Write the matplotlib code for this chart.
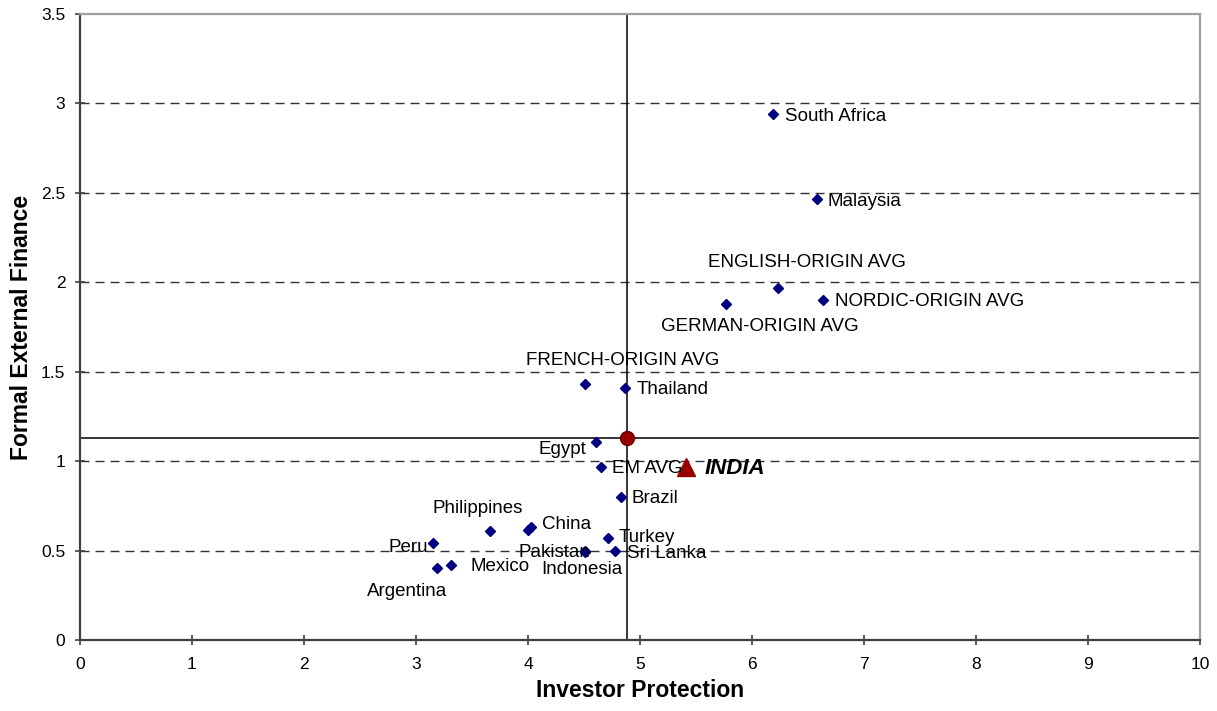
# investor protection vs formal external finance scatter

import matplotlib.pyplot as plt

plt.rcParams['font.family'] = ['Liberation Sans', 'DejaVu Sans']

# data
names = ['South Africa', 'Malaysia', 'ENGLISH-ORIGIN AVG', 'GERMAN-ORIGIN AVG',
         'NORDIC-ORIGIN AVG', 'FRENCH-ORIGIN AVG', 'Thailand', 'Egypt', 'EM AVG',
         'Brazil', 'Philippines', '', 'China', 'Peru', 'Argentina', 'Mexico',
         'Turkey', 'Pakistan', 'Indonesia', 'Sri Lanka']
protection = [6.19, 6.58, 6.235, 5.765, 6.635, 4.51, 4.865, 4.605, 4.65,
              4.83, 3.66, 4.00, 4.03, 3.15, 3.185, 3.31, 4.71, 4.51, 4.51, 4.775]
finance = [2.94, 2.465, 1.97, 1.88, 1.90, 1.43, 1.41, 1.105, 0.97,
           0.80, 0.61, 0.615, 0.63, 0.545, 0.40, 0.42, 0.57, 0.495, 0.49, 0.50]

india_x = [5.415]
india_y = [0.97]
mean_x = [4.885]
mean_y = [1.13]

# label placement (pixel offset, alignment)
label_pos = {
    'South Africa': (12, -2, 'left'),
    'Malaysia': (11, -2, 'left'),
    'ENGLISH-ORIGIN AVG': (29, 25, 'center'),
    'GERMAN-ORIGIN AVG': (34, -23, 'center'),
    'NORDIC-ORIGIN AVG': (12, -1, 'left'),
    'FRENCH-ORIGIN AVG': (38, 24, 'center'),
    'Thailand': (12, -2, 'left'),
    'Egypt': (-10, -7, 'right'),
    'EM AVG': (11, -2, 'left'),
    'Brazil': (11, -2, 'left'),
    'Philippines': (-12, 22, 'center'),
    'China': (11, 3, 'left'),
    'Peru': (-5, -5, 'right'),
    'Argentina': (-30, -23, 'center'),
    'Mexico': (20, -2, 'left'),
    'Turkey': (11, 1, 'left'),
    'Pakistan': (5, -1, 'right'),
    'Indonesia': (-3, -17, 'center'),
    'Sri Lanka': (12, -3, 'left'),
}

fig = plt.figure(figsize=(12.17, 7.11), dpi=100)
ax = fig.add_axes([80 / 1217, 1 - 640 / 711, 1120 / 1217, 626 / 711])

# dashed horizontal gridlines
for g in [0.5, 1, 1.5, 2, 2.5, 3]:
    ax.axhline(g, color='#333333', lw=1, dashes=(6.5, 4.3), zorder=1)

# cross lines through the overall mean
ax.axvline(mean_x[0], color='black', lw=1.1, zorder=2)
ax.axhline(mean_y[0], color='black', lw=1.1, zorder=2)

ax.plot(protection, finance, 'D', color='#000080', markersize=5.5, zorder=3)
ax.plot(mean_x, mean_y, 'o', color='#990000', markeredgecolor='#660000',
        markersize=10, zorder=4)
ax.plot(india_x, india_y, '^', color='#990000', markersize=13, zorder=4)

for n, x, y in zip(names, protection, finance):
    if n == '':
        continue
    dx, dy, ha = label_pos[n]
    ax.annotate(n, (x, y), xytext=(dx, dy), textcoords='offset pixels',
                ha=ha, va='center', fontsize=13.5, color='black', zorder=5)

ax.annotate('INDIA', (india_x[0], india_y[0]), xytext=(18, -2),
            textcoords='offset pixels', ha='left', va='center',
            fontsize=16, fontweight='bold', fontstyle='italic', zorder=5)

ax.set_xlim(0, 10)
ax.set_ylim(0, 3.5)
ax.set_xticks(range(0, 11))
ax.set_yticks([0, 0.5, 1, 1.5, 2, 2.5, 3, 3.5])
ax.set_yticklabels(['0', '0.5', '1', '1.5', '2', '2.5', '3', '3.5'])
ax.tick_params(direction='inout', length=7, width=1.2, labelsize=12.5,
               color='#404040')
ax.tick_params(axis='x', pad=9)
ax.tick_params(axis='y', pad=7)

for s in ['left', 'bottom']:
    ax.spines[s].set_color('#404040')
    ax.spines[s].set_linewidth(1.6)
for s in ['top', 'right']:
    ax.spines[s].set_color('#a0a0a0')
    ax.spines[s].set_linewidth(1.6)

ax.set_xlabel('Investor Protection', fontsize=16.5, fontweight='bold', labelpad=5)
ax.set_ylabel('Formal External Finance', fontsize=16.5, fontweight='bold', labelpad=6)

fig.savefig('out.png', dpi=100)
